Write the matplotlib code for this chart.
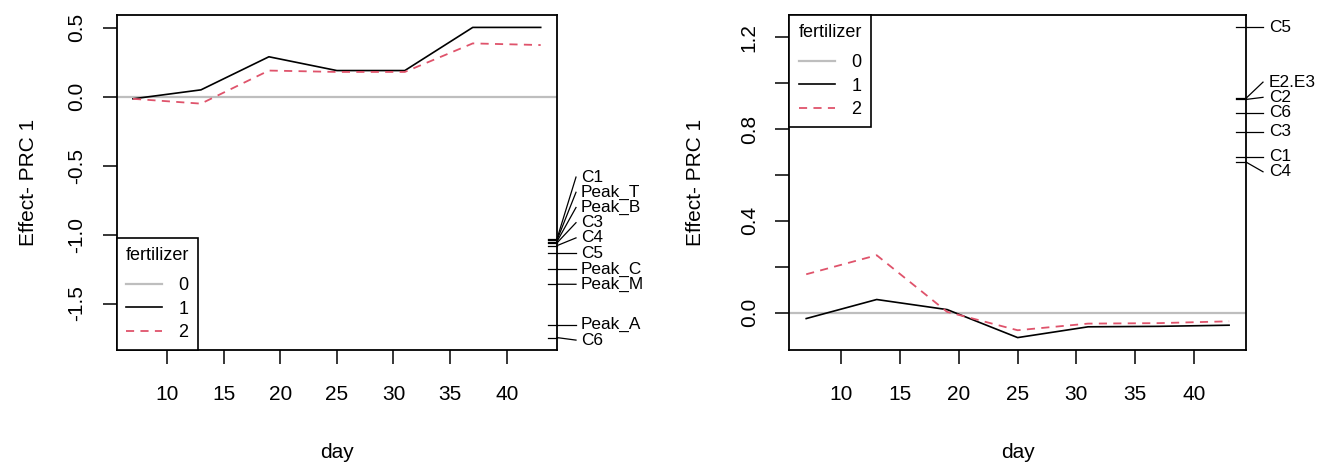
import numpy as np
import matplotlib
matplotlib.use("Agg")
import matplotlib.pyplot as plt
from matplotlib.transforms import blended_transform_factory

plt.rcParams['font.family'] = ['Liberation Sans', 'DejaVu Sans']
plt.rcParams['axes.unicode_minus'] = False

days = [7, 13, 19, 25, 31, 37, 43]

# left panel: PRC effect per treatment level
left_f1 = [-0.015, 0.05, 0.29, 0.19, 0.19, 0.503, 0.503]
left_f2 = [-0.015, -0.05, 0.19, 0.18, 0.18, 0.387, 0.375]
left_species = ['C1', 'Peak_T', 'Peak_B', 'C3', 'C4', 'C5',
                'Peak_C', 'Peak_M', 'Peak_A', 'C6']
left_scores = [-1.03, -1.04, -1.05, -1.06, -1.08, -1.134,
               -1.25, -1.36, -1.655, -1.747]
left_yticks = [-1.5, -1.0, -0.5, 0.0, 0.5]
left_ylabels = ['-1.5', '-1.0', '-0.5', '0.0', '0.5']

# right panel
right_f1 = [-0.026, 0.057, 0.013, -0.109, -0.062, -0.06, -0.055]
right_f2 = [0.167, 0.25, 0.003, -0.077, -0.048, -0.046, -0.038]
right_species = ['C5', 'E2.E3', 'C2', 'C6', 'C3', 'C1', 'C4']
right_scores = [1.243, 0.934, 0.929, 0.872, 0.789, 0.68, 0.656]
right_yticks = [0.0, 0.2, 0.4, 0.6, 0.8, 1.0, 1.2]
right_ylabels = ['0.0', '', '0.4', '', '0.8', '', '1.2']

xticks = [10, 15, 20, 25, 30, 35, 40]
levels = ['0', '1', '2']

GREY = '#BEBEBE'
RED = '#DF536B'
FS = 15


def pad_range(vals):
    lo, hi = min(vals), max(vals)
    d = 0.04 * (hi - lo)
    return lo - d, hi + d


def linestack(ax, names, scores, tick_px, link_px, text_px, ht_px=15.2):
    # R vegan::linestack style: start at the median, push labels apart
    order = np.argsort(scores)
    s = np.asarray(scores, dtype=float)[order]
    n = len(s)
    pix = ax.transData.transform(np.column_stack([np.zeros(n), s]))[:, 1]
    pos = pix.copy()
    mid = (n + 1) // 2 - 1
    for i in range(mid + 1, n):
        pos[i] = max(pix[i], pos[i - 1] + ht_px)
    for i in range(mid - 1, -1, -1):
        pos[i] = min(pix[i], pos[i + 1] - ht_px)
    lab = ax.transData.inverted().transform(np.column_stack([np.zeros(n), pos]))[:, 1]
    w = ax.bbox.width
    tr = blended_transform_factory(ax.transAxes, ax.transData)
    for k, i in enumerate(order):
        ax.plot([1 - tick_px / w, 1], [s[k], s[k]], color='black', lw=0.9,
                transform=tr, clip_on=False)
        ax.plot([1, 1 + link_px / w], [s[k], lab[k]], color='black', lw=0.9,
                transform=tr, clip_on=False)
        ax.text(1 + text_px / w, lab[k], names[i], transform=tr, ha='left',
                va='center', fontsize=12.4)


def panel(ax, f1, f2, names, scores, yticks, ylabels, legend_loc):
    ax.set_xlim(pad_range(days))
    ax.set_ylim(pad_range(f1 + f2 + scores))
    h0 = ax.axhline(0, color=GREY, lw=1.6)
    h1, = ax.plot(days, f1, color='black', lw=1.2)
    h2, = ax.plot(days, f2, color=RED, lw=1.3, dashes=(4.5, 3.5))
    ax.set_xticks(xticks)
    ax.set_xticklabels([str(t) for t in xticks])
    ax.set_yticks(yticks)
    ax.set_yticklabels(ylabels, rotation=90, va='center')
    ax.tick_params(length=10, width=1.1, labelsize=FS, direction='out')
    ax.tick_params(axis='x', pad=15)
    ax.tick_params(axis='y', pad=12)
    for sp in ax.spines.values():
        sp.set_linewidth(1.3)
    ax.set_xlabel('day', fontsize=FS)
    ax.set_ylabel('Effect- PRC 1', fontsize=FS)
    leg = ax.legend([h0, h1, h2], levels, title='fertilizer', loc=legend_loc,
                    borderaxespad=0, fancybox=False, framealpha=1,
                    edgecolor='black', fontsize=13, title_fontsize=13,
                    handlelength=2.0, handletextpad=0.9, borderpad=0.5,
                    labelspacing=0.35, alignment='center')
    leg.get_frame().set_linewidth(1.2)
    # a bit more room between the title and the entries, as in R
    leg._legend_box.sep = 0.35 * 13 + 5
    return ax


fig = plt.figure(figsize=(13.2, 4.63), dpi=100)
ax1 = fig.add_axes([116.7 / 1320, 113 / 463, 440.3 / 1320, 335 / 463])
ax2 = fig.add_axes([789.3 / 1320, 113 / 463, 456.7 / 1320, 335 / 463])

panel(ax1, left_f1, left_f2, left_species, left_scores,
      left_yticks, left_ylabels, 'lower left')
panel(ax2, right_f1, right_f2, right_species, right_scores,
      right_yticks, right_ylabels, 'upper left')

for ax, xl in ((ax1, -78.7), (ax2, -84.3)):
    ax.yaxis.set_label_coords(xl / ax.bbox.width, 0.5)
    ax.xaxis.set_label_coords(0.5, -93 / ax.bbox.height)

linestack(ax1, left_species, left_scores, tick_px=9, link_px=19, text_px=24)
linestack(ax2, right_species, right_scores, tick_px=10, link_px=17, text_px=23)

fig.savefig('out.png', dpi=100)
